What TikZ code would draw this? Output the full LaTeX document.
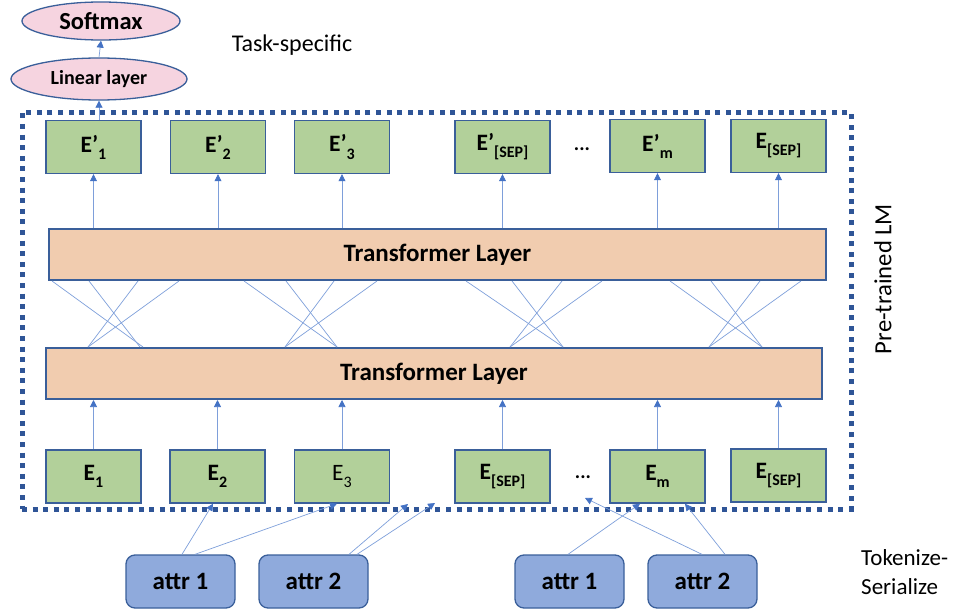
\documentclass[tikz,border=0pt]{standalone}
\usepackage{fontspec}
\setmainfont{Carlito}
\usetikzlibrary{arrows.meta,calc,shapes.geometric}
\definecolor{gfill}{HTML}{B2D09A}
\definecolor{ofill}{HTML}{F1CCAF}
\definecolor{pfill}{HTML}{F6D4E0}
\definecolor{afill}{HTML}{8FAADC}
\definecolor{bord}{HTML}{3A5F9A}
\definecolor{dotc}{HTML}{2F5597}
\definecolor{lblue}{HTML}{7E9FDA}
\definecolor{ablue}{HTML}{4472C4}
\newcommand\fsz[2]{\fontsize{#1}{#2}\selectfont}
\newcommand\subs[1]{\raisebox{-0.3em}{\fontsize{16}{16}\selectfont #1}}
\begin{document}
\begin{tikzpicture}[x=1pt,y=-1pt,
  ebox/.style={draw=bord, line width=1.4pt, fill=gfill, minimum width=95pt, minimum height=53pt, inner sep=0pt, font=\fsz{23.5}{26}\bfseries},
  tlayer/.style={draw=bord, line width=2pt, fill=ofill, minimum height=51pt, inner sep=0pt, font=\fsz{25}{28}\bfseries},
  ell/.style={ellipse, draw=bord, line width=1.3pt, fill=pfill, inner sep=0pt},
  attrbox/.style={rounded corners=9pt, draw=bord, line width=1.3pt, fill=afill, minimum width=109pt, minimum height=53pt, inner sep=0pt, font=\fsz{25}{28}\bfseries},
  conn/.style={draw=lblue, line width=0.7pt},
  arr/.style={conn, -{Triangle[length=7pt,width=7pt,color=ablue]}},
  lbl/.style={font=\fsz{24}{29}, inner sep=0pt}
]
\useasboundingbox (0,0) rectangle (956,610);

% dotted frame of the pre-trained LM
\node[draw=dotc, line width=5pt, dash pattern=on 5pt off 5.6pt, minimum width=829pt, minimum height=397pt, inner sep=0pt] (lm) at (436.5,310.5) {};

% task-specific head
\node[ell, minimum width=158pt, minimum height=38pt, font=\fsz{24.5}{27}\bfseries] (soft) at (101,21) {Softmax};
\node[ell, minimum width=176pt, minimum height=42pt, font=\fsz{20}{23}\bfseries] (lin) at (99,79) {Linear layer};
\node[lbl] (task) at (292,45) {Task-specific};

% transformer layers
\node[tlayer, minimum width=777pt] (tr2) at (437.5,254.5) {Transformer Layer};
\node[tlayer, minimum width=776pt] (tr1) at (434,373.5) {Transformer Layer};

% output embeddings
\node[ebox] (o1) at (93.5,147) {E’\subs{1}};
\node[ebox] (o2) at (218,147) {E’\subs{2}};
\node[ebox] (o3) at (342,147) {E’\subs{3}};
\node[ebox] (o4) at (502.5,147) {E’\subs{[SEP]}};
\node[ebox] (o5) at (657.5,146) {E’\subs{m}};
\node[ebox] (o6) at (778.5,146) {E\subs{[SEP]}};
\node[font=\fsz{20}{22}\bfseries] (odots) at (582,149) {...};

% input embeddings
\node[ebox] (i1) at (93.5,476.5) {E\subs{1}};
\node[ebox] (i2) at (217.5,476.5) {E\subs{2}};
\node[ebox, font=\fsz{23.5}{26}] (i3) at (342,476.5) {E\subs{3}};
\node[ebox] (i4) at (502.5,476.5) {E\subs{[SEP]}};
\node[ebox] (i5) at (657.5,476.5) {E\subs{m}};
\node[ebox] (i6) at (778.5,475.5) {E\subs{[SEP]}};
\node[font=\fsz{20}{22}\bfseries] (idots) at (583,477) {...};

% attributes
\node[attrbox] (a1) at (180.5,581.5) {attr 1};
\node[attrbox] (a2) at (313.5,581.5) {attr 2};
\node[attrbox] (a3) at (569.5,581.5) {attr 1};
\node[attrbox] (a4) at (702.5,581.5) {attr 2};

% side labels
\node[lbl, rotate=90, font=\fsz{24.7}{28}] (pre) at (883,279) {Pre-trained LM};
\node[lbl, align=left, anchor=west, font=\fsz{23}{29}] (tok) at (861,572) {Tokenize-\\Serialize};

% head arrows
\draw[arr] (lin.north) -- (soft.south);
\draw[arr] (o1.north -| lin.south) -- (lin.south);

% transformer to outputs
\foreach \b in {o1,o2,o3,o4,o5,o6}
  \draw[arr] (\b.south |- tr2.north) -- (\b.south);
% inputs to transformer
\foreach \b in {i1,i2,i3,i4,i5,i6}
  \draw[arr] (\b.north) -- (\b.north |- tr1.south);

% crossing connections between the layers
\foreach \t/\u in {52/143, 89/140, 138/88, 179/88,
                   244/337, 286/337, 334/285, 377/285,
                   466/563, 512/563, 562/510, 602/510,
                   670/762, 711/762, 760/709, 801/709}
  \draw[conn] (\t,0 |- tr2.south) -- (\u,0 |- tr1.north);

% tokenize-serialize arrows
\coordinate (f1) at (408,504);
\coordinate (f2) at (435,503);
\coordinate (f3) at (585,498);
\draw[arr] ($(a1.north)+(1.5,0)$) -- ($(i2.south)+(-4.5,0)$);
\draw[arr] ($(a1.north)+(14.5,0)$) -- ($(i3.south)+(-5,0)$);
\draw[arr] ($(a2.north)+(35.5,0)$) -- (f1);
\draw[arr] ($(a2.north)+(43.5,0)$) -- (f2);
\draw[arr] ($(a3.north)+(-1.5,0)$) -- ($(i5.south)+(-17.5,0)$);
\draw[arr] ($(a4.north)+(-0.5,0)$) -- (f3);
\draw[arr] ($(a4.north)+(22.5,0)$) -- ($(i5.south)+(27.5,0)$);
\end{tikzpicture}
\end{document}
